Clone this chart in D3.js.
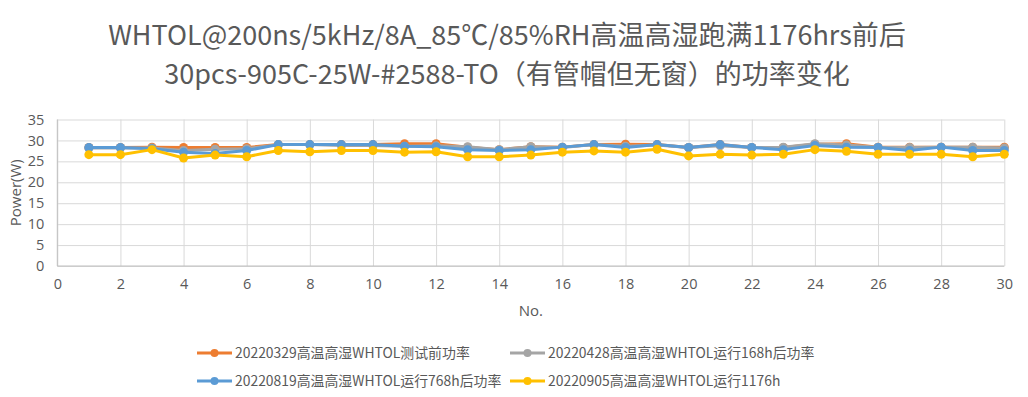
<!DOCTYPE html>
<html><head><meta charset="utf-8">
<script src="https://cdn.jsdelivr.net/npm/d3@7"></script>
<style>
html,body{margin:0;padding:0;background:#fff;}
svg{display:block;font-family:"Noto Sans CJK SC","Open Sans",sans-serif;}
</style></head>
<body><svg id="c" width="1028" height="397"></svg>
<script>
const titleLines = ["WHTOL@200ns/5kHz/8A_85℃/85%RH高温高湿跑满1176hrs前后", "30pcs-905C-25W-#2588-TO（有管帽但无窗）的功率变化"];
const xTicks = [0,2,4,6,8,10,12,14,16,18,20,22,24,26,28,30];
const yTicks = [0,5,10,15,20,25,30,35];
const xs = d3.range(1,31);
const seriesNames = ["20220329高温高湿WHTOL测试前功率","20220428高温高湿WHTOL运行168h后功率","20220819高温高湿WHTOL运行768h后功率","20220905高温高湿WHTOL运行1176h"];
const seriesColors = ["#ED7D31","#A5A5A5","#5B9BD5","#FFC000"];
const s0329 = [28.3,28.3,28.4,28.3,28.3,28.3,29.0,29.0,29.0,29.0,29.2,29.2,28.4,27.8,28.5,28.4,29.0,29.1,29.0,28.3,29.0,28.3,28.3,29.1,29.2,28.4,28.4,28.4,28.4,28.4];
const s0428 = [28.2,28.2,28.2,27.6,27.9,28.0,29.0,29.0,28.8,28.8,28.6,28.7,28.5,27.8,28.5,28.3,29.0,28.6,28.9,28.3,28.7,28.3,28.4,29.2,28.9,28.4,28.3,28.4,28.4,28.2];
const s0819 = [28.3,28.3,28.0,27.2,26.9,27.6,29.0,29.0,29.0,29.0,28.6,28.5,27.8,27.6,27.8,28.4,29.0,28.3,29.0,28.3,29.0,28.3,27.8,28.8,28.4,28.3,27.6,28.4,27.6,27.6];
const s0905 = [26.6,26.6,27.8,25.8,26.5,26.1,27.6,27.3,27.6,27.6,27.2,27.3,26.1,26.1,26.5,27.2,27.5,27.2,27.9,26.3,26.7,26.5,26.7,27.8,27.4,26.7,26.7,26.7,26.1,26.7];
const seriesData = [s0329,s0428,s0819,s0905];

const svg = d3.select("#c");
const L=57.3, R=1004.3, T=119.5, B=266;
const x = d3.scaleLinear().domain([0,30]).range([L,R]);
const y = d3.scaleLinear().domain([0,35]).range([B,T]);
const txt="#595959";
const latin="'Open Sans',sans-serif";

// title (one text element, two lines)
const title = svg.append("text").attr("class","title").attr("text-anchor","middle")
  .attr("font-size",27).attr("fill",txt);
title.selectAll("tspan").data(titleLines).enter().append("tspan")
  .attr("x",507).attr("y",(d,i)=>44.5+i*39.5).text(d=>d);

// gridlines + axes
const g = svg.append("g");
g.append("g").attr("transform",`translate(0,${B})`)
  .call(d3.axisBottom(x).tickValues(xTicks).tickSize(-(B-T)).tickFormat(d3.format("d")))
  .call(a=>{a.select(".domain").remove();
    a.selectAll("line").attr("stroke","#D9D9D9");
    a.selectAll("text").attr("fill",txt).attr("font-size",14.5).attr("y",13).attr("dy","0.71em").attr("font-family",latin);});
g.append("g").attr("transform",`translate(${L},0)`)
  .call(d3.axisLeft(y).tickValues(yTicks).tickSize(-(R-L)).tickFormat(d3.format("d")))
  .call(a=>{a.select(".domain").remove();
    a.selectAll("line").attr("stroke","#D9D9D9");
    a.selectAll("text").attr("fill",txt).attr("font-size",14.5).attr("x",-13).attr("font-family",latin);});
g.append("line").attr("x1",L).attr("x2",R).attr("y1",B).attr("y2",B).attr("stroke","#BFBFBF");
g.append("line").attr("x1",L).attr("x2",L).attr("y1",T).attr("y2",B).attr("stroke","#BFBFBF");

// axis titles
svg.append("text").attr("transform",`translate(16,${(T+B)/2}) rotate(-90)`).attr("text-anchor","middle")
  .attr("dy","0.35em").attr("font-size",15).attr("fill",txt).attr("font-family",latin).text("Power(W)");
svg.append("text").attr("x",(L+R)/2).attr("y",316).attr("text-anchor","middle")
  .attr("font-size",15).attr("fill",txt).attr("font-family",latin).text("No.");

// series
const line = d3.line().x((d,i)=>x(xs[i])).y(d=>y(d));
seriesData.forEach((s,k)=>{
  const sg = svg.append("g");
  sg.append("path").datum(s).attr("d",line).attr("fill","none")
    .attr("stroke",seriesColors[k]).attr("stroke-width",3).attr("stroke-linejoin","round");
  sg.selectAll("circle").data(s).enter().append("circle")
    .attr("cx",(d,i)=>x(xs[i])).attr("cy",d=>y(d)).attr("r",4.5).attr("fill",seriesColors[k]);
});

// legend
const legPos = [[197,353],[510,353],[197,381],[510,381]];
seriesNames.forEach((n,k)=>{
  const [lx,ly]=legPos[k];
  const lg = svg.append("g");
  lg.append("line").attr("x1",lx).attr("x2",lx+35).attr("y1",ly).attr("y2",ly)
    .attr("stroke",seriesColors[k]).attr("stroke-width",3);
  lg.append("circle").attr("cx",lx+17.5).attr("cy",ly).attr("r",4).attr("fill",seriesColors[k]);
  lg.append("text").attr("x",lx+38).attr("y",ly).attr("dy","0.35em").attr("font-size",13.9)
    .attr("fill",txt).text(n);
});
</script></body></html>
